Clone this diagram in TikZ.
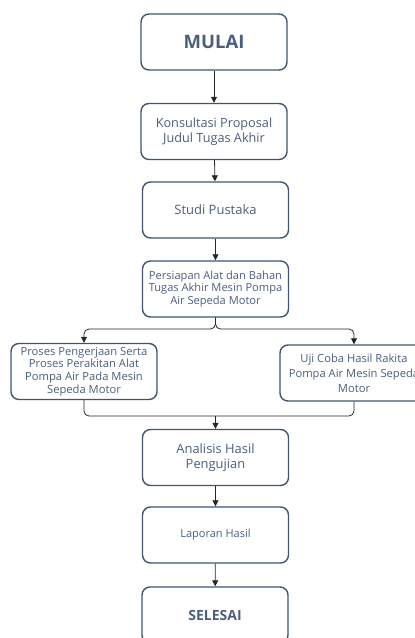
\documentclass[tikz,border=0pt]{standalone}
\usepackage{fontspec}
\setmainfont{Open Sans}
\usetikzlibrary{arrows.meta}
\definecolor{boxline}{HTML}{3F5573}
\definecolor{boxtext}{HTML}{4B5E7E}
\tikzset{
  flowbox/.style={draw=boxline, line width=1.4pt, rounded corners=8pt, minimum width=146pt, minimum height=56pt, align=center, text=boxtext, inner sep=2pt},
  termbox/.style={flowbox, font=\bfseries\fontsize{18.5}{20}\selectfont},
  conn/.style={draw=black!85, line width=0.8pt, -{Triangle[width=6pt,length=6pt]}},
  plainconn/.style={draw=black!85, line width=0.8pt}
}
\begin{document}
\begin{tikzpicture}[x=1pt,y=-1pt]
\useasboundingbox (0,0) rectangle (415,638);
\clip (0,0) rectangle (415,638);
\node[termbox] (mulai) at (214,42) {MULAI};
\node[flowbox, font=\fontsize{12.7}{15}\selectfont] (kons) at (214,131.5) {Konsultasi Proposal\\Judul Tugas Akhir};
\node[flowbox, font=\fontsize{13}{15}\selectfont] (studi) at (215.5,210) {Studi Pustaka};
\node[flowbox, font=\fontsize{11.1}{12.5}\selectfont] (pers) at (215.5,289) {Persiapan Alat dan Bahan\\Tugas Akhir Mesin Pompa\\Air Sepeda Motor};
\node[flowbox, font=\fontsize{11.2}{12.8}\selectfont] (left) at (84,371.5) {Proses Pengerjaan Serta\\Proses Perakitan Alat\\Pompa Air Pada Mesin\\Sepeda Motor};
\node[flowbox, font=\fontsize{11.2}{15}\selectfont, minimum width=148pt] (right) at (354,373) {Uji Coba Hasil Rakita\\Pompa Air Mesin Sepeda\\Motor};
\node[flowbox, font=\fontsize{12.9}{14.3}\selectfont] (anal) at (215.5,457.5) {Analisis Hasil\\Pengujian};
\node[flowbox, font=\fontsize{11}{13}\selectfont] (lap) at (215.5,535) {Laporan Hasil};
\node[termbox, font=\bfseries\fontsize{14}{16}\selectfont] (sel) at (215,615) {SELESAI};
\coordinate (j1) at (215.5,329);
\coordinate (j2) at (215.5,416);
\draw[conn] (mulai) -- (kons);
\draw[conn] (kons) -- (studi);
\draw[conn] (studi) -- (pers);
\draw[conn, rounded corners=5pt] (pers.south) -- (j1) -| (left.north);
\draw[conn, rounded corners=5pt] (pers.south) -- (j1) -| (right.north);
\draw[plainconn, rounded corners=5pt] (left.south) |- (j2);
\draw[plainconn, rounded corners=5pt] (right.south) |- (j2);
\draw[conn] (j2) -- (anal.north);
\draw[conn] (anal) -- (lap);
\draw[conn] (lap) -- (sel);
\end{tikzpicture}
\end{document}
